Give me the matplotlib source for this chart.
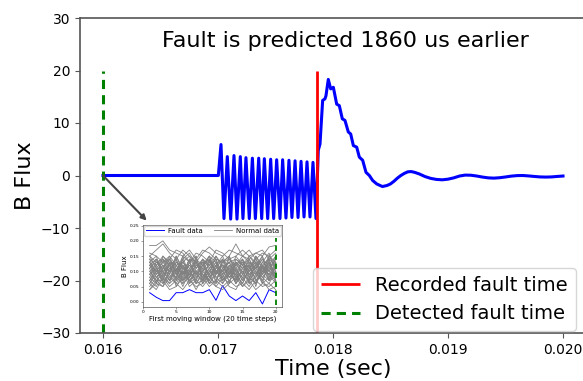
import numpy as np
import matplotlib
matplotlib.use("Agg")
import matplotlib.pyplot as plt

# main signal (time in ms, B flux)
time_ms = [
    16.000, 17.003, 17.026, 17.052, 17.081, 17.110, 17.139, 17.165, 17.194, 17.217,
    17.243, 17.272, 17.299, 17.325, 17.354, 17.380, 17.403, 17.432, 17.458, 17.484,
    17.510, 17.539, 17.562, 17.591, 17.617, 17.643, 17.670, 17.696, 17.722, 17.748,
    17.774, 17.800, 17.826, 17.852, 17.872, 17.887, 17.910, 17.930, 17.939, 17.959,
    17.980, 18.003, 18.032, 18.055, 18.081, 18.104, 18.133, 18.154, 18.177, 18.206,
    18.229, 18.258, 18.287, 18.316, 18.345, 18.380, 18.409, 18.430, 18.470, 18.500,
    18.530, 18.560, 18.590, 18.620, 18.650, 18.680, 18.710, 18.750, 18.800, 18.850,
    18.900, 18.950, 19.000, 19.050, 19.100, 19.150, 19.200, 19.250, 19.300, 19.350,
    19.400, 19.450, 19.500, 19.550, 19.600, 19.650, 19.700, 19.750, 19.800, 19.850,
    19.900, 19.950, 20.000,
]
b_flux = [
    0.0, 0.0, 5.9, -8.2, 3.6, -8.3, 3.8, -8.3, 3.6, -8.2,
    3.4, -8.2, 3.3, -8.2, 3.3, -8.2, 3.2, -8.2, 3.1, -8.2,
    3.0, -8.2, 3.0, -8.1, 2.9, -8.0, 2.8, -8.0, 2.7, -7.9,
    2.6, -7.9, 2.5, -8.2, 4.8, 6.0, 14.3, 14.6, 15.2, 18.3,
    16.5, 16.8, 13.6, 13.3, 10.8, 10.5, 8.3, 7.9, 5.7, 5.4,
    3.5, 2.9, 0.6, 0.0, -0.95, -1.6, -1.9, -2.1, -1.9, -1.6,
    -1.1, -0.5, 0.0, 0.4, 0.7, 0.75, 0.6, 0.3, -0.2, -0.55,
    -0.75, -0.82, -0.7, -0.45, -0.1, 0.08, 0.05, -0.1, -0.3, -0.45,
    -0.5, -0.42, -0.28, -0.12, -0.02, 0.0, -0.08, -0.18, -0.27, -0.3,
    -0.27, -0.18, -0.1,
]
recorded_fault = 0.01786
detected_fault = 0.016

# inset: first moving window
steps = list(range(1, 21))
fault_window = [0.030, 0.015, 0.004, 0.004, 0.030, 0.030, 0.040, 0.030, 0.030, 0.040,
                0.005, 0.053, 0.019, 0.004, 0.019, 0.004, 0.030, -0.007, 0.040, 0.030]
n01 = [0.185, 0.185, 0.20, 0.17, 0.16, 0.15, 0.17, 0.14, 0.17, 0.16, 0.14, 0.13, 0.15, 0.19, 0.15, 0.14, 0.16, 0.15, 0.18, 0.185]
n02 = [0.15, 0.17, 0.19, 0.16, 0.14, 0.17, 0.15, 0.13, 0.16, 0.18, 0.16, 0.15, 0.17, 0.16, 0.15, 0.17, 0.14, 0.16, 0.15, 0.17]
n03 = [0.06, 0.09, 0.12, 0.08, 0.11, 0.07, 0.10, 0.13, 0.09, 0.06, 0.10, 0.12, 0.08, 0.11, 0.07, 0.10, 0.12, 0.09, 0.07, 0.10]
n04 = [0.12, 0.08, 0.06, 0.10, 0.13, 0.11, 0.07, 0.09, 0.12, 0.14, 0.10, 0.07, 0.09, 0.13, 0.11, 0.08, 0.06, 0.10, 0.13, 0.09]
n05 = [0.04, 0.06, 0.05, 0.08, 0.06, 0.04, 0.07, 0.05, 0.06, 0.09, 0.05, 0.04, 0.06, 0.08, 0.05, 0.07, 0.04, 0.06, 0.05, 0.07]
n06 = [0.14, 0.12, 0.15, 0.13, 0.10, 0.14, 0.16, 0.12, 0.11, 0.15, 0.13, 0.10, 0.14, 0.12, 0.15, 0.13, 0.11, 0.14, 0.12, 0.15]
n07 = [0.09, 0.11, 0.08, 0.12, 0.14, 0.09, 0.12, 0.10, 0.08, 0.11, 0.14, 0.09, 0.11, 0.08, 0.12, 0.14, 0.09, 0.12, 0.10, 0.08]
n08 = [0.07, 0.05, 0.09, 0.06, 0.08, 0.12, 0.06, 0.08, 0.10, 0.07, 0.05, 0.08, 0.12, 0.06, 0.09, 0.07, 0.10, 0.06, 0.08, 0.12]
n09 = [0.11, 0.14, 0.10, 0.07, 0.12, 0.09, 0.14, 0.11, 0.13, 0.08, 0.12, 0.15, 0.10, 0.09, 0.13, 0.10, 0.08, 0.13, 0.11, 0.14]
n10 = [0.13, 0.10, 0.13, 0.15, 0.09, 0.12, 0.08, 0.14, 0.10, 0.12, 0.09, 0.13, 0.15, 0.10, 0.08, 0.12, 0.14, 0.11, 0.15, 0.11]
n11 = [0.05, 0.08, 0.11, 0.09, 0.06, 0.10, 0.09, 0.06, 0.07, 0.10, 0.08, 0.06, 0.09, 0.07, 0.10, 0.06, 0.08, 0.11, 0.09, 0.06]
n12 = [0.10, 0.07, 0.09, 0.11, 0.08, 0.06, 0.11, 0.13, 0.09, 0.07, 0.11, 0.10, 0.07, 0.09, 0.06, 0.11, 0.13, 0.08, 0.06, 0.10]
n13 = [0.16, 0.15, 0.13, 0.14, 0.17, 0.16, 0.13, 0.16, 0.15, 0.13, 0.17, 0.16, 0.14, 0.15, 0.17, 0.15, 0.16, 0.17, 0.14, 0.16]
n14 = [0.08, 0.12, 0.14, 0.11, 0.09, 0.13, 0.10, 0.07, 0.14, 0.11, 0.07, 0.11, 0.13, 0.08, 0.10, 0.09, 0.11, 0.07, 0.12, 0.13]
n15 = [0.12, 0.10, 0.07, 0.13, 0.12, 0.08, 0.13, 0.15, 0.06, 0.09, 0.12, 0.14, 0.06, 0.13, 0.11, 0.12, 0.07, 0.10, 0.14, 0.07]
n16 = [0.06, 0.04, 0.08, 0.05, 0.07, 0.10, 0.05, 0.07, 0.05, 0.08, 0.06, 0.09, 0.05, 0.04, 0.08, 0.05, 0.09, 0.07, 0.04, 0.05]
n17 = [0.15, 0.13, 0.11, 0.15, 0.12, 0.13, 0.15, 0.11, 0.14, 0.12, 0.15, 0.11, 0.13, 0.14, 0.12, 0.15, 0.13, 0.09, 0.15, 0.13]
n18 = [0.09, 0.13, 0.12, 0.07, 0.10, 0.15, 0.08, 0.12, 0.11, 0.10, 0.13, 0.07, 0.10, 0.12, 0.14, 0.08, 0.12, 0.15, 0.08, 0.11]
n19 = [0.10, 0.12, 0.06, 0.09, 0.14, 0.07, 0.09, 0.12, 0.13, 0.06, 0.09, 0.12, 0.11, 0.06, 0.09, 0.14, 0.10, 0.08, 0.11, 0.09]
n20 = [0.07, 0.10, 0.10, 0.12, 0.07, 0.11, 0.12, 0.09, 0.07, 0.13, 0.10, 0.08, 0.12, 0.10, 0.13, 0.09, 0.06, 0.12, 0.07, 0.12]
n21 = [0.14, 0.09, 0.12, 0.10, 0.15, 0.10, 0.07, 0.10, 0.12, 0.09, 0.15, 0.12, 0.08, 0.11, 0.07, 0.13, 0.11, 0.14, 0.10, 0.14]
n22 = [0.04, 0.07, 0.07, 0.04, 0.05, 0.08, 0.08, 0.04, 0.08, 0.05, 0.07, 0.05, 0.07, 0.05, 0.06, 0.04, 0.07, 0.05, 0.06, 0.04]
n23 = [0.11, 0.06, 0.15, 0.12, 0.10, 0.13, 0.11, 0.06, 0.10, 0.14, 0.06, 0.14, 0.09, 0.12, 0.10, 0.07, 0.15, 0.12, 0.09, 0.13]
n24 = [0.13, 0.15, 0.09, 0.14, 0.11, 0.09, 0.14, 0.13, 0.08, 0.11, 0.12, 0.09, 0.15, 0.07, 0.14, 0.11, 0.09, 0.13, 0.16, 0.10]
n25 = [0.08, 0.06, 0.11, 0.14, 0.09, 0.07, 0.13, 0.08, 0.12, 0.15, 0.08, 0.10, 0.13, 0.09, 0.06, 0.11, 0.14, 0.09, 0.12, 0.08]
n26 = [0.12, 0.14, 0.08, 0.06, 0.13, 0.12, 0.09, 0.15, 0.07, 0.10, 0.13, 0.08, 0.06, 0.14, 0.12, 0.09, 0.11, 0.15, 0.07, 0.13]
n27 = [0.06, 0.10, 0.13, 0.10, 0.08, 0.14, 0.06, 0.11, 0.14, 0.08, 0.11, 0.14, 0.10, 0.07, 0.11, 0.13, 0.07, 0.09, 0.13, 0.06]
n28 = [0.15, 0.11, 0.14, 0.09, 0.15, 0.11, 0.10, 0.14, 0.12, 0.15, 0.10, 0.12, 0.09, 0.15, 0.12, 0.10, 0.15, 0.11, 0.10, 0.15]
n29 = [0.09, 0.07, 0.05, 0.11, 0.10, 0.05, 0.10, 0.07, 0.11, 0.06, 0.07, 0.11, 0.08, 0.10, 0.05, 0.08, 0.06, 0.11, 0.07, 0.08]
n30 = [0.11, 0.13, 0.14, 0.12, 0.07, 0.15, 0.13, 0.09, 0.13, 0.12, 0.14, 0.07, 0.11, 0.13, 0.09, 0.15, 0.12, 0.06, 0.14, 0.12]
n31 = [0.13, 0.08, 0.10, 0.07, 0.11, 0.06, 0.08, 0.10, 0.06, 0.14, 0.09, 0.13, 0.14, 0.11, 0.14, 0.06, 0.13, 0.10, 0.09, 0.11]
n32 = [0.07, 0.11, 0.07, 0.13, 0.05, 0.09, 0.14, 0.06, 0.09, 0.07, 0.12, 0.06, 0.10, 0.06, 0.11, 0.12, 0.05, 0.12, 0.14, 0.07]
normal_windows = [n01, n02, n03, n04, n05, n06, n07, n08, n09, n10, n11, n12,
                  n13, n14, n15, n16, n17, n18, n19, n20, n21, n22, n23, n24,
                  n25, n26, n27, n28, n29, n30, n31, n32]

spine_col = "#555555"

fig = plt.figure(figsize=(5.83, 3.81), dpi=100)
ax = fig.add_axes([80 / 583, 48 / 381, 506 / 583, 315 / 381])

t = np.array(time_ms) / 1000.0
ax.plot(t, b_flux, color="blue", lw=2.2)
ax.vlines(recorded_fault, -30, 20, color="red", lw=2, label="Recorded fault time")
ax.vlines(detected_fault, -30, 20, color="green", lw=2.2, linestyles=(0, (3, 2)),
          label="Detected fault time")

ax.set_xlim(0.0158, 0.0202)
ax.set_ylim(-30, 30)
ax.set_xticks([0.016, 0.017, 0.018, 0.019, 0.020])
ax.set_yticks([-30, -20, -10, 0, 10, 20, 30])
ax.tick_params(labelsize=10, color=spine_col)
for s in ax.spines.values():
    s.set_color(spine_col)
    s.set_linewidth(1.2)
ax.set_xlabel("Time (sec)", fontsize=16, labelpad=2)
ax.set_ylabel("B Flux", fontsize=16)
ax.text(0.524, 0.908, "Fault is predicted 1860 us earlier", transform=ax.transAxes,
        ha="center", va="baseline", fontsize=16)
ax.legend(loc="lower right", bbox_to_anchor=(0.98, 0.006), borderaxespad=0,
          fontsize=14)

ax.annotate("", xy=(0.01638, -8.6), xytext=(detected_fault, 0),
            arrowprops=dict(arrowstyle="-|>", color="#444444", lw=1.5,
                            mutation_scale=8, shrinkA=0, shrinkB=0))

# inset
ins = fig.add_axes([143 / 583, 74 / 381, 139 / 583, 82 / 381])
ins.plot(steps, fault_window, color="blue", lw=0.7, label="Fault data")
for i, w in enumerate(normal_windows):
    ins.plot(steps, w, color="gray", lw=0.6, label="Normal data" if i == 0 else None)
ins.vlines(20, -0.01, 0.21, color="green", lw=1.3, linestyles=(0, (3, 2)))
ins.set_ylim(-0.017, 0.252)
ins.set_xticks([0, 5, 10, 15, 20])
ins.set_yticks([0.0, 0.05, 0.10, 0.15, 0.20, 0.25])
ins.tick_params(labelsize=3.2, length=1.5, width=0.4, pad=1, color=spine_col)
for s in ins.spines.values():
    s.set_color(spine_col)
    s.set_linewidth(0.5)
ins.set_xlabel("First moving window (20 time steps)", fontsize=5, labelpad=1)
ins.set_ylabel("B Flux", fontsize=5, labelpad=1)
ins.legend(loc="upper center", ncol=2, fontsize=5, handlelength=2.6,
           borderpad=0.25, columnspacing=1.6, handletextpad=0.6,
           borderaxespad=0.15, framealpha=0.8)

fig.savefig("out.png", dpi=100)
